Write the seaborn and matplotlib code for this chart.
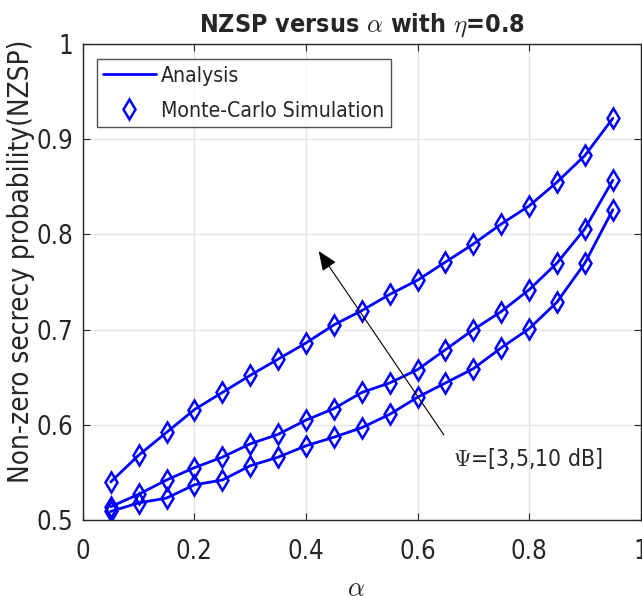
import numpy as np
import pandas as pd
import matplotlib
matplotlib.use('Agg')
import matplotlib.pyplot as plt
from matplotlib import font_manager as fm
from matplotlib.lines import Line2D
import seaborn as sns

# values
alpha = [0.05, 0.10, 0.15, 0.20, 0.25, 0.30, 0.35, 0.40, 0.45, 0.50,
         0.55, 0.60, 0.65, 0.70, 0.75, 0.80, 0.85, 0.90, 0.95]
nzsp_10db = [0.540, 0.568, 0.592, 0.616, 0.634, 0.652, 0.669, 0.686, 0.705, 0.720,
             0.737, 0.752, 0.771, 0.790, 0.811, 0.830, 0.855, 0.883, 0.922]
nzsp_5db = [0.514, 0.527, 0.542, 0.555, 0.566, 0.580, 0.590, 0.605, 0.617, 0.634,
            0.644, 0.658, 0.679, 0.700, 0.719, 0.742, 0.770, 0.806, 0.857]
nzsp_3db = [0.509, 0.518, 0.523, 0.537, 0.542, 0.557, 0.566, 0.578, 0.587, 0.597,
            0.611, 0.629, 0.644, 0.659, 0.681, 0.701, 0.729, 0.770, 0.826]
psi_labels = ['3 dB', '5 dB', '10 dB']

df = pd.DataFrame({
    'alpha': alpha * 3,
    'nzsp': nzsp_3db + nzsp_5db + nzsp_10db,
    'psi': np.repeat(psi_labels, len(alpha)),
})

sns.set_style('ticks')

# the reference uses a narrow Helvetica-like face; use a narrow one if there is one
fonts = {(f.name, f.stretch) for f in fm.fontManager.ttflist}
names = {n for n, _ in fonts}
if 'Liberation Sans Narrow' in names:
    plt.rcParams['font.family'] = ['Liberation Sans Narrow', 'DejaVu Sans']
    fs_tick, fs_leg, fs_title, fs_ylab, fs_txt = 19, 17.5, 19, 22, 18
elif any(n == 'DejaVu Sans' and s in ('condensed', 'semi-condensed') for n, s in fonts):
    plt.rcParams['font.family'] = ['DejaVu Sans']
    plt.rcParams['font.stretch'] = 'condensed'
    fs_tick, fs_leg, fs_title, fs_ylab, fs_txt = 18.5, 15.2, 18, 20, 16.4
else:
    plt.rcParams['font.family'] = ['Liberation Sans', 'DejaVu Sans']
    fs_tick, fs_leg, fs_title, fs_ylab, fs_txt = 16, 15.3, 19, 20, 16
plt.rcParams['mathtext.fontset'] = 'cm'

fig = plt.figure(figsize=(6.42, 5.96), dpi=100)
ax = fig.add_axes([0.129, 0.1275, 0.869, 0.7985])

blue = '#0000ff'
pal = [blue] * 3
# analysis curves
sns.lineplot(data=df, x='alpha', y='nzsp', hue='psi', palette=pal, lw=2,
             legend=False, ax=ax)
# simulation markers
sns.lineplot(data=df, x='alpha', y='nzsp', hue='psi', palette=pal, linestyle='none',
             marker='d', markersize=10.5, markerfacecolor='none',
             markeredgecolor=blue, markeredgewidth=1.8, legend=False, ax=ax)

ax.set_xlim(0, 1)
ax.set_ylim(0.5, 1)
ax.set_xticks(np.arange(0, 1.01, 0.2))
ax.set_xticklabels(['0', '0.2', '0.4', '0.6', '0.8', '1'])
ax.set_yticks(np.arange(0.5, 1.01, 0.1))
ax.set_yticklabels(['0.5', '0.6', '0.7', '0.8', '0.9', '1'])
ax.grid(True, color='#e3e3e3', lw=1)
ax.tick_params(direction='in', top=True, right=True, labelsize=fs_tick, length=5,
               colors='#262626')
ax.tick_params(axis='x', pad=14)
ax.tick_params(axis='y', pad=7)
for s in ax.spines.values():
    s.set_color('#262626')
    s.set_linewidth(1)

ax.set_xlabel(r'$\alpha$', fontsize=19)
ax.xaxis.set_label_coords(0.49, -0.118)
ax.set_ylabel('Non-zero secrecy probability(NZSP)', fontsize=fs_ylab, color='#262626')
ax.yaxis.set_label_coords(-0.085, 0.544)
ax.set_title(r'NZSP versus $\alpha$ with $\eta$=0.8', fontsize=fs_title,
             fontweight='bold', pad=9)

ax.annotate('', xy=(0.42, 0.785), xytext=(0.65, 0.587),
            arrowprops=dict(arrowstyle='-|>,head_length=0.6,head_width=0.25',
                            color='black', lw=0.8, mutation_scale=20))
ax.text(0.663, 0.565, r'$\Psi$=[3,5,10 dB]', fontsize=fs_txt, va='center', ha='left',
        color='#262626')

handles = [Line2D([], [], color=blue, lw=2),
           Line2D([], [], color=blue, linestyle='none', marker='d', markersize=10.5,
                  markerfacecolor='none', markeredgewidth=1.8)]
leg = ax.legend(handles, ['Analysis', 'Monte-Carlo Simulation'], loc='upper left',
                bbox_to_anchor=(0.025, 0.968), fontsize=fs_leg, frameon=True,
                fancybox=False, edgecolor='#262626', handlelength=2.5, borderpad=0.3,
                labelspacing=0.72, handletextpad=0.25, borderaxespad=0)
leg.get_frame().set_linewidth(1)

fig.savefig('out.png', dpi=100)
